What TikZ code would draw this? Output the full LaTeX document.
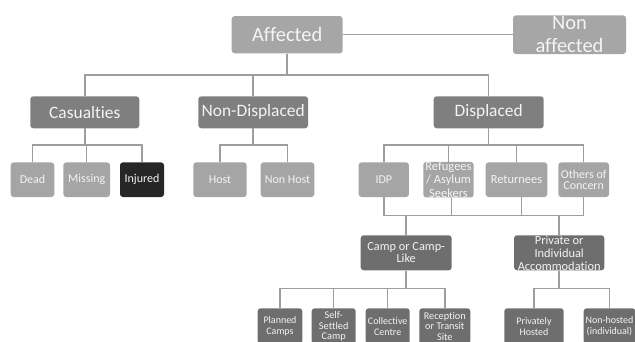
\documentclass[tikz,border=0pt]{standalone}
\usepackage{fontspec}
\setmainfont{Carlito}[Ligatures={NoCommon}]
\definecolor{cA}{HTML}{A6A6A6}
\definecolor{cB}{HTML}{7F7F7F}
\definecolor{cC}{HTML}{A5A5A5}
\definecolor{cD}{HTML}{262626}
\definecolor{cE}{HTML}{6E6E6E}
\definecolor{lineC}{HTML}{9E9E9E}
\definecolor{txt}{HTML}{F4F4F4}
\newcommand{\fsz}[2]{\fontsize{#1}{#2}\selectfont}
\tikzset{
  box/.style={rounded corners=3pt, inner sep=0pt, align=center, text=txt},
  top/.style={box, fill=cA, font=\fsz{20.5}{23}},
  mid/.style={box, fill=cB, font=\fsz{17.4}{20}},
  leaf/.style={box, fill=cC, font=\fsz{12}{12.5}},
  dark/.style={box, fill=cE, font=\fsz{12.3}{12.5}},
  small/.style={box, fill=cE, font=\fsz{10}{11.4}},
  conn/.style={draw=lineC, line width=1.5pt},
}
\begin{document}
\begin{tikzpicture}[x=1pt,y=-1pt]
\useasboundingbox (0,0) rectangle (635,342);
\begin{scope}
\clip (0,0) rectangle (635,342);
% top level
\node[top, minimum width=111pt, minimum height=37.3pt] (aff) at (287.2,34.7) {Affected};
\node[top, minimum width=113pt, minimum height=38.7pt] (non) at (569.5,34.7) {Non\\affected};
% level 2
\node[mid, minimum width=109pt, minimum height=32pt] (cas) at (84.8,112.3) {Casualties};
\node[mid, minimum width=109.7pt, minimum height=32pt] (nond) at (253.2,112.3) {Non-Displaced};
\node[mid, minimum width=110pt, minimum height=32pt] (disp) at (488.7,112.3) {Displaced};
% level 3
\node[leaf, minimum width=43.6pt, minimum height=34.7pt] (dead) at (32.5,179.7) {Dead};
\node[leaf, minimum width=46.7pt, minimum height=34.7pt] (miss) at (86.7,179.7) {Missing};
\node[leaf, fill=cD, minimum width=44pt, minimum height=34.7pt] (inj) at (142,179.7) {Injured};
\node[leaf, minimum width=53.4pt, minimum height=34.7pt] (host) at (220,179.7) {Host};
\node[leaf, minimum width=53.6pt, minimum height=34.7pt] (nhost) at (287.5,179.7) {Non Host};
\node[leaf, minimum width=50.3pt, minimum height=34.7pt] (idp) at (383.8,179.7) {IDP};
\node[leaf, font=\fsz{12.5}{13.4}, minimum width=50.4pt, minimum height=34.7pt] (ref) at (448.5,179.7) {Refugees\\/ Asylum\\Seekers};
\node[leaf, font=\fsz{12.4}{13}, minimum width=61.6pt, minimum height=34.7pt] (ret) at (516.5,179.7) {Returnees};
\node[leaf, font=\fsz{12}{11.6}, minimum width=50.7pt, minimum height=34.7pt] (oth) at (583.7,179.7) {Others of\\Concern};
% level 4
\node[dark, minimum width=91pt, minimum height=35pt] (camp) at (406.2,252.8) {Camp or Camp-\\Like};
\node[dark, font=\fsz{12.4}{13}, minimum width=90.3pt, minimum height=35pt] (priv) at (559.2,252.8) {Private or\\Individual\\Accommodation};
% level 5
\node[small, minimum width=44.6pt, minimum height=36pt] (plan) at (280,326.3) {Planned\\Camps};
\node[small, font=\fsz{10.3}{10.2}, minimum width=44pt, minimum height=36pt] (self) at (333.7,326.3) {Self-\\Settled\\Camp};
\node[small, minimum width=44pt, minimum height=36pt] (coll) at (387.7,326.3) {Collective\\Centre};
\node[small, font=\fsz{10.3}{10.2}, minimum width=51pt, minimum height=36pt] (rec) at (444.8,326.3) {Reception\\or Transit\\Site};
\node[small, minimum width=59.4pt, minimum height=36pt] (phost) at (534,326.3) {Privately\\Hosted};
\node[small, minimum width=51.6pt, minimum height=36pt] (nonh) at (609.5,326.3) {Non-hosted\\(individual)};
\end{scope}
% bus coordinates
\coordinate (b1) at (0,75);
\coordinate (b2) at (0,145);
\coordinate (b3) at (0,215.3);
\coordinate (b4) at (0,288.7);
% connectors
\draw[conn] (aff.east) -- (non.west |- aff.east);
\foreach \c in {cas,nond,disp}
  \draw[conn] (aff.south) -- (aff.south |- b1) -| (\c.north);
\foreach \c in {dead,miss,inj}
  \draw[conn] (cas.south) -- (cas.south |- b2) -| (\c.north);
\foreach \c in {host,nhost}
  \draw[conn] (nond.south) -- (nond.south |- b2) -| (\c.north);
\foreach \c in {idp,ref,ret,oth}
  \draw[conn] (disp.south) -- (disp.south |- b2) -| (\c.north);
\foreach \c in {camp,priv}{
  \draw[conn] (idp.south) -- (idp.south |- b3) -| (\c.north);
  \draw[conn] (oth.south) -- (oth.south |- b3) -| (\c.north);
}
\draw[conn] ([xshift=3pt]ref.south) -- ([xshift=3pt]ref.south |- b3);
\draw[conn] ([xshift=5pt]ret.south) -- ([xshift=5pt]ret.south |- b3);
\foreach \c in {plan,self,coll,rec}
  \draw[conn] (camp.south) -- (camp.south |- b4) -| (\c.north);
\foreach \c in {phost,nonh}
  \draw[conn] (priv.south) -- (priv.south |- b4) -| (\c.north);
\end{tikzpicture}
\end{document}
